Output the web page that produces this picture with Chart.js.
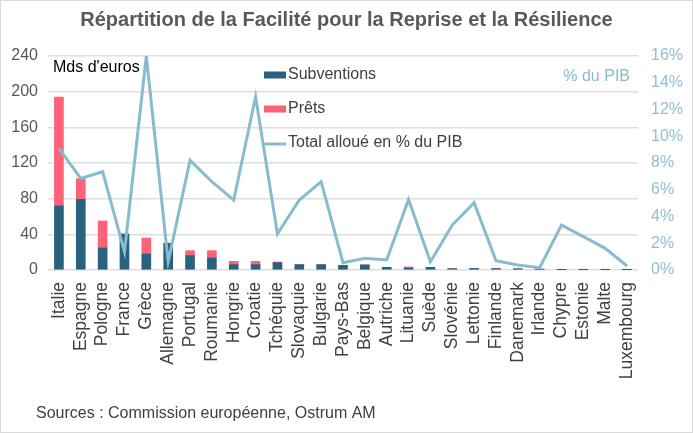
<!DOCTYPE html>
<html>
<head>
<meta charset="utf-8">
<script src="https://cdn.jsdelivr.net/npm/chart.js@4/dist/chart.umd.min.js"></script>
<style>
  html, body { margin: 0; padding: 0; background: #fff; }
  #wrap { width: 693px; height: 433px; position: relative; }
</style>
</head>
<body>
<div id="wrap"><canvas id="myChart" width="693" height="433"></canvas></div>
<script>
const pays = ['Italie', 'Espagne', 'Pologne', 'France', 'Grèce', 'Allemagne', 'Portugal', 'Roumanie',
  'Hongrie', 'Croatie', 'Tchéquie', 'Slovaquie', 'Bulgarie', 'Pays-Bas', 'Belgique', 'Autriche',
  'Lituanie', 'Suède', 'Slovénie', 'Lettonie', 'Finlande', 'Danemark', 'Irlande', 'Chypre',
  'Estonie', 'Malte', 'Luxembourg'];

// Mds d'euros
const subventions = [71.8, 79.2, 24.7, 40.3, 17.9, 30.0, 16.1, 13.5, 6.0, 6.0, 8.2, 6.0, 6.0, 5.2,
  5.6, 3.0, 2.2, 3.0, 1.5, 1.8, 1.6, 1.4, 1.0, 0.1, 0.1, 0.05, 0.02];
const prets = [122.2, 23.2, 30.3, 0, 18.0, 0, 5.6, 8.2, 3.7, 3.7, 0.8, 0, 0, 0,
  0.3, 0, 1.2, 0, 0.2, 0, 0, 0, 0, 0, 0, 0, 0];

// Total alloué en % du PIB
const pctPib = [9.1, 6.85, 7.35, 1.37, 16.0, 0.62, 8.2, 6.6, 5.23, 12.96, 2.7, 5.23, 6.6, 0.55,
  0.87, 0.75, 5.28, 0.62, 3.36, 5.03, 0.7, 0.37, 0.17, 3.36, 2.5, 1.62, 0.3];

const leftTicks = [0, 40, 80, 120, 160, 200, 240];
const rightTicks = [0, 2, 4, 6, 8, 10, 12, 14, 16];

const BLUE = '#28627f';
const PINK = '#fe6279';
const LINE = '#86bccd';
const TXT = '#404040';
const FONT = "'Liberation Sans', Arial, sans-serif";

// texts drawn on top: legend, unit labels, source, frame
const extras = {
  id: 'extras',
  afterDraw(chart) {
    const ctx = chart.ctx;
    const ca = chart.chartArea;
    ctx.save();
    ctx.font = '16px ' + FONT;
    ctx.textBaseline = 'middle';

    ctx.fillStyle = '#000';
    ctx.textAlign = 'left';
    ctx.fillText("Mds d'euros", ca.left + 5, ca.top + 12);

    ctx.fillStyle = LINE;
    ctx.textAlign = 'right';
    ctx.fillText('% du PIB', ca.right - 8, ca.top + 21);

    // legend
    const lx = 264, ly = [75, 109, 143];
    chart.data.datasets.forEach((ds, i) => {
      const y = ly[i];
      if (ds.type === 'line') {
        ctx.strokeStyle = ds.borderColor;
        ctx.lineWidth = 3;
        ctx.beginPath();
        ctx.moveTo(lx, y + 1);
        ctx.lineTo(lx + 22, y + 1);
        ctx.stroke();
      } else {
        ctx.fillStyle = ds.backgroundColor;
        ctx.fillRect(lx, y - 3.5, 22, 7);
      }
      ctx.fillStyle = TXT;
      ctx.textAlign = 'left';
      ctx.fillText(ds.label, lx + 24, y);
    });

    ctx.fillStyle = TXT;
    ctx.textAlign = 'left';
    ctx.fillText('Sources : Commission européenne, Ostrum AM', 36, 414);

    ctx.strokeStyle = '#d9d9d9';
    ctx.lineWidth = 1;
    ctx.strokeRect(0.5, 0.5, chart.width - 1, chart.height - 1);
    ctx.restore();
  }
};

new Chart(document.getElementById('myChart'), {
  data: {
    labels: pays,
    datasets: [
      {
        type: 'bar',
        label: 'Subventions',
        data: subventions,
        backgroundColor: BLUE,
        barThickness: 9,
        yAxisID: 'y',
        order: 2,
      },
      {
        type: 'bar',
        label: 'Prêts',
        data: prets,
        backgroundColor: PINK,
        barThickness: 9,
        yAxisID: 'y',
        order: 2,
      },
      {
        type: 'line',
        label: 'Total alloué en % du PIB',
        data: pctPib,
        borderColor: LINE,
        borderWidth: 3,
        pointRadius: 0,
        tension: 0,
        yAxisID: 'y1',
        order: 1,
      },
    ],
  },
  options: {
    responsive: false,
    animation: false,
    layout: { padding: { top: 0, left: 0, right: 0, bottom: 43 } },
    plugins: {
      legend: { display: false },
      tooltip: { enabled: false },
      title: {
        display: true,
        text: 'Répartition de la Facilité pour la Reprise et la Résilience',
        color: '#595959',
        font: { family: "'Liberation Sans Narrow', 'Arial Narrow', " + FONT, size: 20, weight: 'bold' },
        padding: { top: 8, bottom: 24 },
      },
    },
    scales: {
      x: {
        stacked: true,
        grid: { display: false, drawTicks: false },
        border: { display: false },
        ticks: {
          autoSkip: false,
          minRotation: 90,
          maxRotation: 90,
          padding: 12,
          color: TXT,
          font: { family: FONT, size: 17.5 },
        },
        afterFit(scale) { scale.height = 120; },
      },
      y: {
        stacked: true,
        position: 'left',
        min: 0,
        max: 240,
        afterBuildTicks(scale) { scale.ticks = leftTicks.map(v => ({ value: v })); },
        grid: { color: '#dedede', lineWidth: 1.5, drawTicks: false },
        border: { display: false },
        ticks: { padding: 10, color: '#595959', font: { family: FONT, size: 16 } },
        afterFit(scale) { scale.width = 48; },
      },
      y1: {
        position: 'right',
        min: 0,
        max: 16,
        afterBuildTicks(scale) { scale.ticks = rightTicks.map(v => ({ value: v })); },
        grid: { display: false, drawTicks: false },
        border: { display: false },
        ticks: {
          padding: 13,
          color: '#8fc1d2',
          font: { family: FONT, size: 16 },
          callback: v => v + '%',
        },
        afterFit(scale) { scale.width = 55; },
      },
    },
  },
  plugins: [extras],
});
</script>
</body>
</html>
